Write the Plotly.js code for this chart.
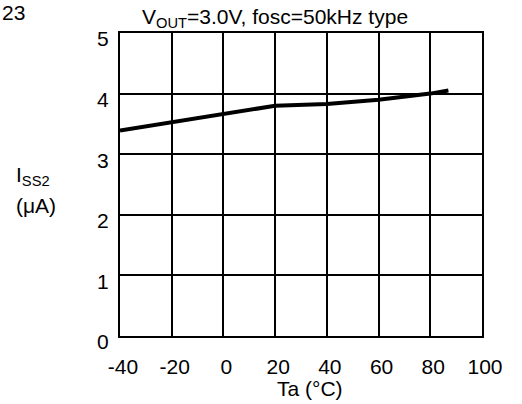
<!DOCTYPE html>
<html>
<head>
<meta charset="utf-8">
<script src="https://cdn.plot.ly/plotly-3.0.1.min.js"></script>
<style>html,body{margin:0;padding:0;background:#fff;}#chart{width:522px;height:404px;}</style>
</head>
<body>
<div id="chart"></div>
<script>
// Data
var temperature = [-40, -20, 0, 20, 40, 60, 80, 87];
var iss2 = [3.39, 3.53, 3.66, 3.80, 3.83, 3.90, 4.00, 4.05];
var xTicks = [-40, -20, 0, 20, 40, 60, 80, 100];
var yTicks = [0, 1, 2, 3, 4, 5];

var FONT = "Liberation Sans, Arial, sans-serif";
var FS = 21;

var trace = {
  x: temperature,
  y: iss2,
  type: 'scatter',
  mode: 'lines',
  line: {color: '#000', width: 4},
  hoverinfo: 'none',
  showlegend: false
};

var layout = {
  width: 522,
  height: 404,
  margin: {l: 120, r: 40, t: 33, b: 68},
  paper_bgcolor: '#fff',
  plot_bgcolor: '#fff',
  font: {family: FONT, size: FS, color: '#000'},
  xaxis: {
    range: [-40, 100],
    tickvals: xTicks,
    ticktext: xTicks.map(String),
    showgrid: true,
    gridcolor: '#000',
    gridwidth: 2,
    showline: true,
    mirror: true,
    linecolor: '#000',
    linewidth: 2,
    zeroline: false,
    ticks: '',
    ticklabelstandoff: 11,
    ticklabelshift: 3,
    tickfont: {family: FONT, size: FS, color: '#000'},
    fixedrange: true
  },
  yaxis: {
    range: [0, 5],
    tickvals: yTicks,
    ticktext: yTicks.map(String),
    showgrid: true,
    gridcolor: '#000',
    gridwidth: 2,
    showline: true,
    mirror: true,
    linecolor: '#000',
    linewidth: 2,
    zeroline: false,
    ticks: '',
    ticklabelstandoff: 5,
    ticklabelshift: 6,
    tickfont: {family: FONT, size: FS, color: '#000'},
    fixedrange: true
  },
  annotations: [
    {text: 'V<sub>OUT</sub>=3.0V, fosc=50kHz type', xref: 'paper', yref: 'paper',
     x: (275 - 120) / 362, y: 1, xanchor: 'center', yanchor: 'bottom', yshift: 0,
     showarrow: false, font: {family: FONT, size: FS, color: '#000'}},
    {text: '23', xref: 'paper', yref: 'paper', x: (0 - 120) / 362, y: 1, yshift: 33 - 12,
     xanchor: 'left', yanchor: 'middle', showarrow: false,
     font: {family: FONT, size: FS, color: '#000'}},
    {text: 'I<sub>SS2</sub>', xref: 'paper', yref: 'paper', x: (14 - 120) / 362,
     y: (336 - 176) / 302.5, xanchor: 'left', yanchor: 'middle', showarrow: false,
     font: {family: FONT, size: FS, color: '#000'}},
    {text: '(μA)', xref: 'paper', yref: 'paper', x: (14 - 120) / 362,
     y: (336 - 206) / 302.5, xanchor: 'left', yanchor: 'middle', showarrow: false,
     font: {family: FONT, size: FS, color: '#000'}},
    {text: 'Ta (°C)', xref: 'paper', yref: 'paper', x: (310 - 120) / 362,
     y: (336 - 388) / 302.5, xanchor: 'center', yanchor: 'middle', showarrow: false,
     font: {family: FONT, size: FS, color: '#000'}}
  ]
};

Plotly.newPlot('chart', [trace], layout, {staticPlot: true, displayModeBar: false});
</script>
</body>
</html>
